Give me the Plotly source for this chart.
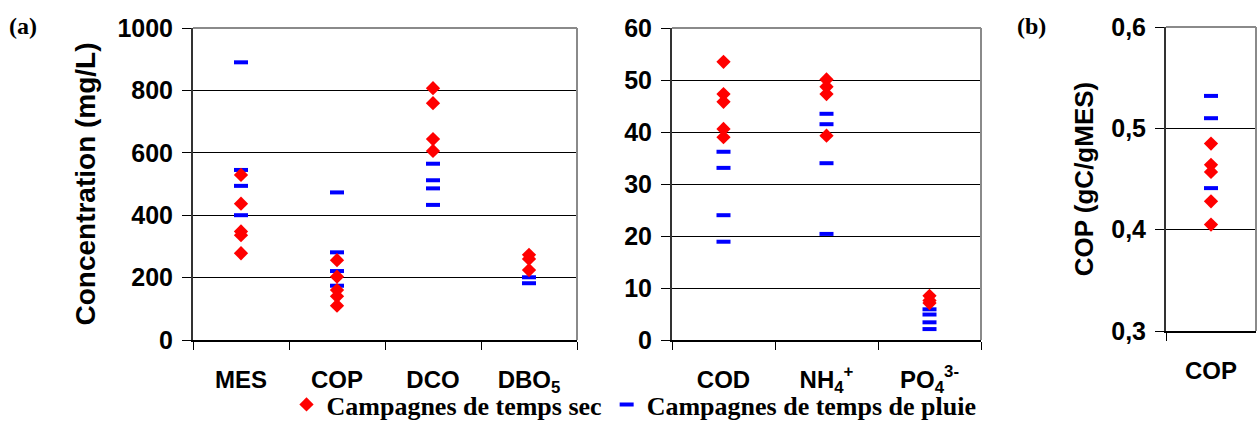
import plotly.graph_objects as go

# ---- categories -------------------------------------------------------------
cats_main = ["MES", "COP", "DCO", "DBO<sub>5</sub>"]
cats_dissolved = ["COD", "NH<sub>4</sub><sup>+</sup>", "PO<sub>4</sub><sup>3-</sup>"]
cats_ratio = ["COP"]

# ---- concentrations (mg/L), dry-weather campaigns ---------------------------
dry_mes = [529, 437, 348, 336, 278]
dry_cop = [256, 203, 160, 140, 110]
dry_dco = [807, 759, 644, 606]
dry_dbo5 = [273, 260, 224]

# ---- concentrations (mg/L), wet-weather campaigns ---------------------------
wet_mes = [890, 545, 494, 400]
wet_cop = [473, 281, 221, 174]
wet_dco = [565, 512, 486, 433]
wet_dbo5 = [201, 182]

# ---- dissolved species (mg/L) -----------------------------------------------
dry_cod = [53.5, 47.3, 45.8, 40.6, 39.0]
dry_nh4 = [50.1, 48.7, 47.3, 39.3]
dry_po4 = [8.5, 7.6, 7.1]
wet_cod = [36.2, 33.1, 24.0, 18.9]
wet_nh4 = [43.5, 41.5, 34.0, 20.4]
wet_po4 = [5.9, 4.9, 3.4, 2.1]

# ---- COP / MES ratio (gC/gMES) ----------------------------------------------
dry_ratio = [0.485, 0.464, 0.457, 0.428, 0.405]
wet_ratio = [0.532, 0.510, 0.441]

# ---- axis ticks -------------------------------------------------------------
ticks_main = [0, 200, 400, 600, 800, 1000]
ticks_dissolved = [0, 10, 20, 30, 40, 50, 60]
ticks_ratio = [0.3, 0.4, 0.5, 0.6]
ticktext_ratio = ["0,3", "0,4", "0,5", "0,6"]

legend_dry = "Campagnes de temps sec"
legend_wet = "Campagnes de temps de pluie"

RED = "#FF0000"
BLUE = "#0000FF"
SANS = "Liberation Sans"
SERIF = "Liberation Serif"


def stack(cats, groups):
    xs, ys = [], []
    for c, vals in zip(cats, groups):
        xs += [c] * len(vals)
        ys += list(vals)
    return xs, ys


dry_marker = dict(symbol="diamond", size=11, color=RED, line=dict(width=0))
wet_marker = dict(symbol="line-ew", size=10, color=BLUE,
                  line=dict(width=4, color=BLUE))

fig = go.Figure()

panels = [
    ("x", "y", cats_main, [dry_mes, dry_cop, dry_dco, dry_dbo5],
     [wet_mes, wet_cop, wet_dco, wet_dbo5], True),
    ("x2", "y2", cats_dissolved, [dry_cod, dry_nh4, dry_po4],
     [wet_cod, wet_nh4, wet_po4], False),
    ("x3", "y3", cats_ratio, [dry_ratio], [wet_ratio], False),
]

for xa, ya, cats, dry, wet, show in panels:
    xw, yw = stack(cats, wet)
    xd, yd = stack(cats, dry)
    fig.add_trace(go.Scatter(x=xw, y=yw, mode="markers", marker=wet_marker,
                             name=legend_wet, legendgroup="wet",
                             showlegend=show, xaxis=xa, yaxis=ya,
                             legendrank=2))
    fig.add_trace(go.Scatter(x=xd, y=yd, mode="markers", marker=dry_marker,
                             name=legend_dry, legendgroup="dry",
                             showlegend=show, xaxis=xa, yaxis=ya,
                             legendrank=1))

W, H = 1257, 428
tickfont = dict(family=SANS, size=25, color="black", weight="bold")
catfont = dict(family=SANS, size=24, color="black", weight="bold")


def xaxis_cfg(domain, anchor, cats):
    return dict(domain=domain, anchor=anchor, type="category",
                categoryorder="array", categoryarray=cats,
                range=[-0.5, len(cats) - 0.5],
                tickson="boundaries", ticks="outside", ticklen=8,
                tickcolor="black", tickwidth=1, showline=True,
                linecolor="black", linewidth=1.5, showgrid=False,
                tickangle=0, automargin=False,
                tickfont=catfont, ticklabelstandoff=17, fixedrange=True)


def yaxis_cfg(domain, anchor, rng, vals, text=None, title=None,
              size=26, standoff=10):
    d = dict(domain=domain, anchor=anchor, range=rng, tickvals=vals,
             ticks="outside", ticklen=9, tickcolor="black", tickwidth=1,
             showline=True, linecolor="#333333", linewidth=2,
             showgrid=True, gridcolor="black", gridwidth=1,
             zeroline=False, tickfont=tickfont, ticklabelstandoff=4,
             automargin=False, fixedrange=True)
    if text is not None:
        d["ticktext"] = text
    if title is not None:
        d["title"] = dict(text=title, standoff=standoff,
                          font=dict(family=SANS, size=size, color="black",
                                    weight="bold"))
    return d


xd1 = [193 / W, 577 / W]
xd2 = [672 / W, 981 / W]
xd3 = [1166 / W, 1256 / W]
yd12 = [1 - 340 / H, 1 - 28 / H]
yd3 = [1 - 331 / H, 1 - 27 / H]

fig.update_layout(
    width=W, height=H,
    margin=dict(l=0, r=0, t=0, b=0, pad=0, autoexpand=False),
    paper_bgcolor="white", plot_bgcolor="white",
    xaxis=xaxis_cfg(xd1, "y", cats_main),
    xaxis2=xaxis_cfg(xd2, "y2", cats_dissolved),
    xaxis3=xaxis_cfg(xd3, "y3", cats_ratio),
    yaxis=yaxis_cfg(yd12, "x", [0, 1000], ticks_main,
                    title="Concentration (mg/L)", size=28, standoff=14),
    yaxis2=yaxis_cfg(yd12, "x2", [0, 60], ticks_dissolved),
    yaxis3=yaxis_cfg(yd3, "x3", [0.3, 0.6], ticks_ratio, ticktext_ratio,
                     title="COP (gC/gMES)", size=26, standoff=10),
    showlegend=True,
    legend=dict(orientation="h", x=634 / W, xanchor="center",
                y=0, yanchor="bottom",
                font=dict(family=SERIF, size=26, color="black",
                          weight="bold"),
                bgcolor="rgba(0,0,0,0)", itemclick=False,
                tracegroupgap=0),
)

# grey top and right frame edges of each panel
for xr, yr in (("x", "y"), ("x2", "y2"), ("x3", "y3")):
    fig.add_shape(type="line", xref=f"{xr} domain", yref=f"{yr} domain",
                  x0=0, x1=1, y0=1, y1=1, layer="above",
                  line=dict(color="#8a8a8a", width=2))
    fig.add_shape(type="line", xref=f"{xr} domain", yref=f"{yr} domain",
                  x0=1, x1=1, y0=0, y1=1, layer="above",
                  line=dict(color="#8a8a8a", width=2))

# panel labels
for txt, px in (("(a)", 23), ("(b)", 1031)):
    fig.add_annotation(text=txt, x=px / W, y=1 - 26 / H, xref="paper",
                       yref="paper", showarrow=False, xanchor="center",
                       yanchor="middle",
                       font=dict(family=SERIF, size=24, color="black",
                                 weight="bold"))

fig.write_html("out.html", config={"displayModeBar": False})
